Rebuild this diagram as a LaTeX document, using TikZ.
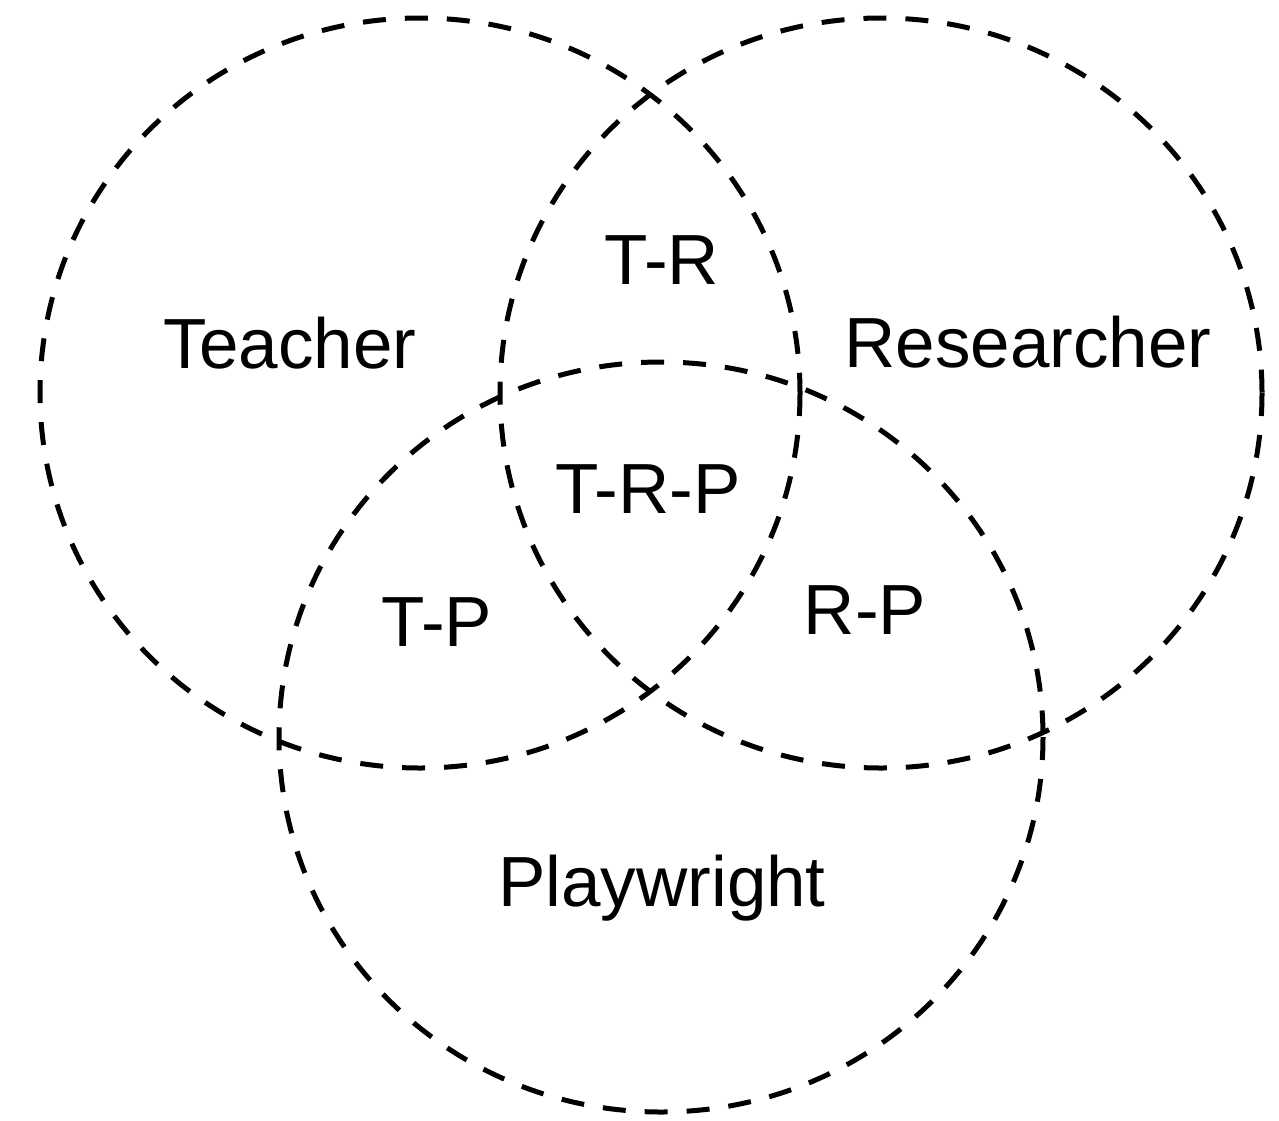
\documentclass[tikz,border=0pt]{standalone}
\usepackage{fontspec}
\setmainfont{Liberation Sans}
\begin{document}
\begin{tikzpicture}[x=1pt,y=-1pt,
  venn/.style={draw=black, line width=5pt, dash pattern=on 23pt off 19pt},
  lbl/.style={anchor=base, inner sep=0pt, font=\fontsize{71}{84}\selectfont}]
\useasboundingbox (0,0) rectangle (1279,1120);
\fill[white] (0,0) rectangle (1279,1120);
\draw[venn] (420,393) ellipse [x radius=380, y radius=375];
\draw[venn] (881,393) ellipse [x radius=381, y radius=375];
\draw[venn] (661,737) ellipse [x radius=382, y radius=375];
\node[lbl] (teacher) at (290,368) {Teacher};
\node[lbl] (researcher) at (1028,367) {Researcher};
\node[lbl] (playwright) at (662,906) {Playwright};
\node[lbl] (tr) at (662,284) {T-R};
\node[lbl] (trp) at (648,513) {T-R-P};
\node[lbl] (tp) at (437,646) {T-P};
\node[lbl] (rp) at (865,634) {R-P};
\end{tikzpicture}
\end{document}
